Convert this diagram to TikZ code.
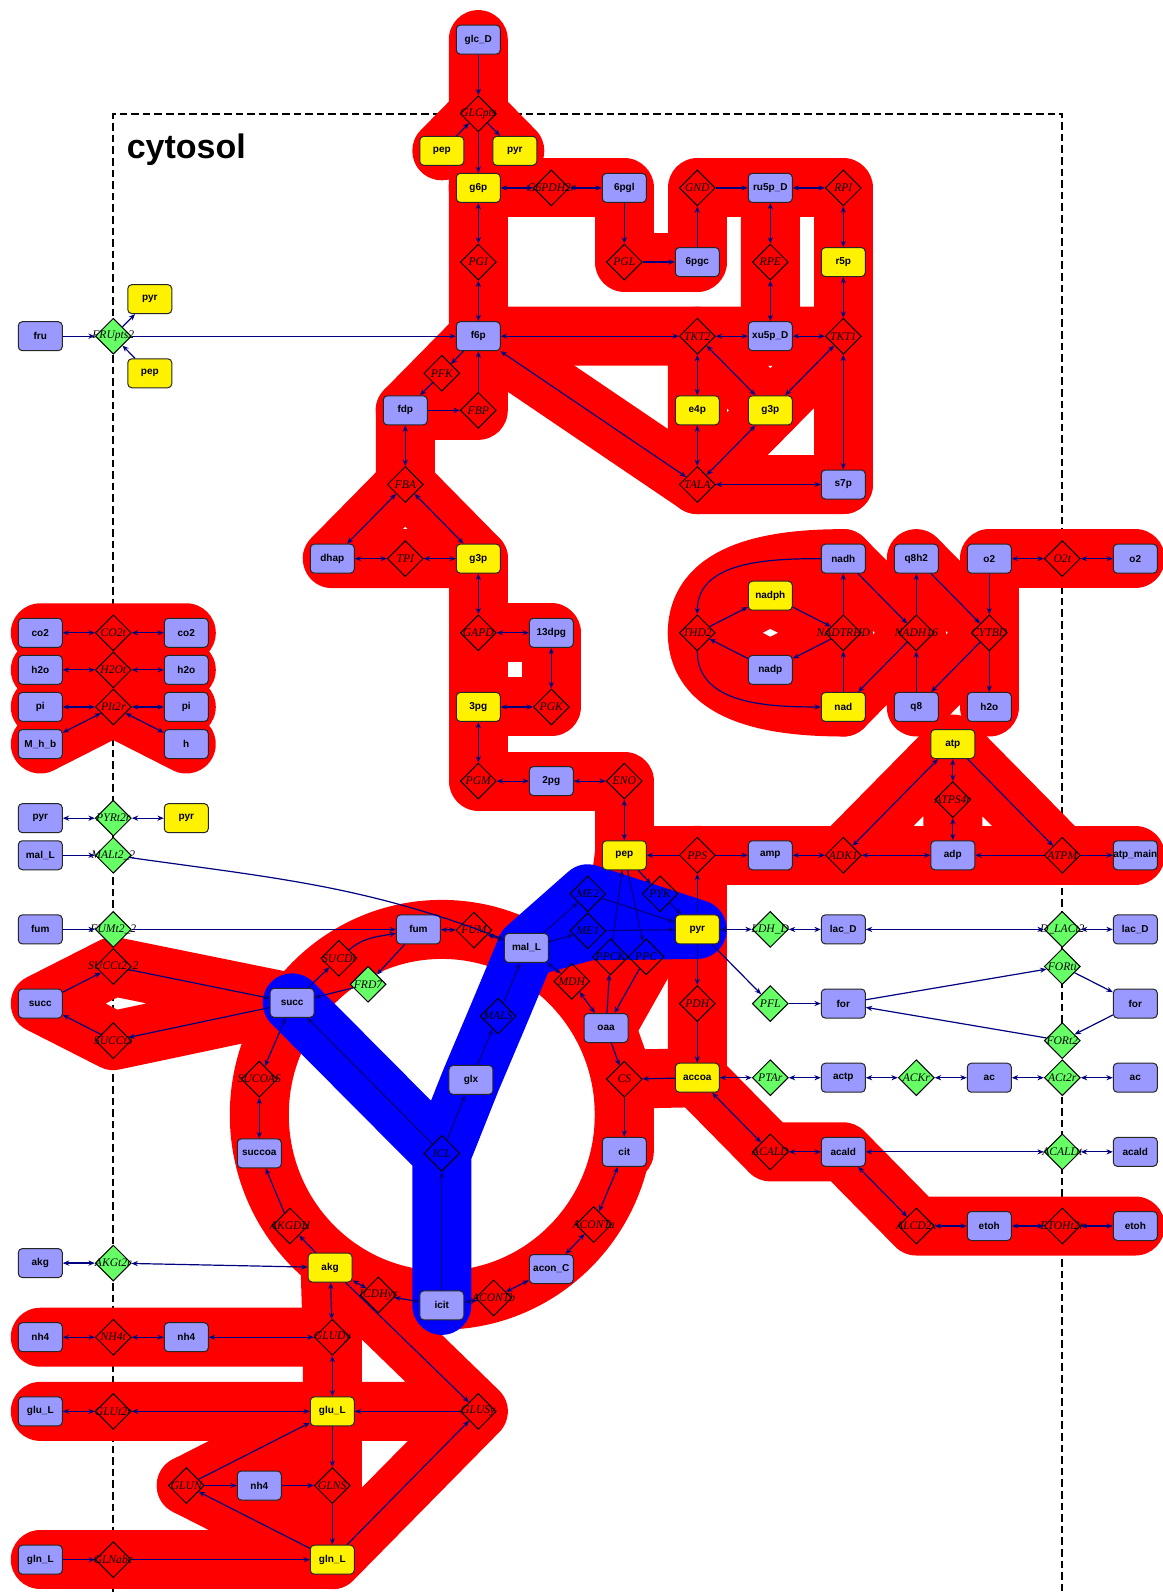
\documentclass[tikz,border=0pt]{standalone}
\usepackage{fontspec}
\setmainfont{Liberation Serif}
\setsansfont{Liberation Sans}
\usetikzlibrary{arrows.meta,shapes.geometric}
\pgfdeclarelayer{bg}
\pgfsetlayers{bg,main}
\definecolor{metblue}{RGB}{153,153,255}
\definecolor{rxngreen}{RGB}{102,255,102}
\definecolor{linkc}{RGB}{0,0,128}
\newcommand{\rxlab}[1]{\makebox[0pt]{#1}}

\begin{document}
\begin{tikzpicture}[x=36.5pt, y=-37.075pt,
  met/.style={draw=black!85, rounded corners=2pt, line width=0.5pt, minimum width=22pt, minimum height=14.5pt, inner sep=0pt, font=\sffamily\bfseries\fontsize{5}{6}\selectfont},
  metb/.style={met, fill=metblue},
  mety/.style={met, fill=yellow},
  rxn/.style={diamond, draw=black, line width=0.5pt, minimum width=18pt, minimum height=18pt, inner sep=0pt, font=\itshape\fontsize{5.8}{6}\selectfont},
  rxng/.style={rxn, fill=rxngreen},
  fw/.style={draw=linkc, line width=0.6pt, -{Stealth[length=3.2pt,width=2.6pt]}},
  bi/.style={draw=linkc, line width=0.6pt, {Stealth[length=3.2pt,width=2.6pt]}-{Stealth[length=3.2pt,width=2.6pt]}},
  flux/.style={draw=red, line width=29.5pt, line cap=round, line join=round},
  fluxb/.style={flux, draw=blue},
  cbox/.style={dash pattern=on 3.8pt off 2pt, line width=1pt}]
\useasboundingbox (-0.552,-0.534) rectangle (15.366,20.936);
\node[font=\sffamily\bfseries\fontsize{17}{20}\selectfont] (cyto) at (2.0,1.48) {cytosol};
\node[metb] (glcD) at (6,0) {glc\_D};
\node[mety] (pepA) at (5.5,1.5) {pep};
\node[mety] (pyrA) at (6.5,1.5) {pyr};
\node[mety] (g6p) at (6,2) {g6p};
\node[metb] (pgl6) at (8,2) {6pgl};
\node[metb] (ru5p) at (10,2) {ru5p\_D};
\node[metb] (pgc6) at (9,3) {6pgc};
\node[mety] (r5p) at (11,3) {r5p};
\node[metb] (fru) at (0,4) {fru};
\node[mety] (pyrF) at (1.5,3.5) {pyr};
\node[mety] (pepF) at (1.5,4.5) {pep};
\node[metb] (f6p) at (6,4) {f6p};
\node[metb] (xu5p) at (10,4) {xu5p\_D};
\node[metb] (fdp) at (5,5) {fdp};
\node[mety] (e4p) at (9,5) {e4p};
\node[mety] (g3pB) at (10,5) {g3p};
\node[metb] (s7p) at (11,6) {s7p};
\node[metb] (dhap) at (4,7) {dhap};
\node[mety] (g3p) at (6,7) {g3p};
\node[metb] (nadh) at (11,7) {nadh};
\node[metb] (q8h2) at (12,7) {q8h2};
\node[metb] (o2) at (13,7) {o2};
\node[metb] (o2e) at (15,7) {o2};
\node[mety] (nadph) at (10,7.5) {nadph};
\node[metb] (co2e) at (0,8) {co2};
\node[metb] (co2) at (2,8) {co2};
\node[metb] (dpg13) at (7,8) {13dpg};
\node[metb] (h2oe) at (0,8.5) {h2o};
\node[metb] (h2oi) at (2,8.5) {h2o};
\node[metb] (nadp) at (10,8.5) {nadp};
\node[metb] (pie) at (0,9) {pi};
\node[metb] (pii) at (2,9) {pi};
\node[mety] (pg3) at (6,9) {3pg};
\node[mety] (nad) at (11,9) {nad};
\node[metb] (q8) at (12,9) {q8};
\node[metb] (h2o) at (13,9) {h2o};
\node[metb] (Mhb) at (0,9.5) {M\_h\_b};
\node[metb] (hi) at (2,9.5) {h};
\node[mety] (atp) at (12.5,9.5) {atp};
\node[metb] (pg2) at (7,10) {2pg};
\node[metb] (pyre) at (0,10.5) {pyr};
\node[mety] (pyri) at (2,10.5) {pyr};
\node[metb] (malLe) at (0,11) {mal\_L};
\node[mety] (pep) at (8,11) {pep};
\node[metb] (amp) at (10,11) {amp};
\node[metb] (adp) at (12.5,11) {adp};
\node[metb] (atpm) at (15,11) {atp\_main};
\node[metb] (fume) at (0,12) {fum};
\node[metb] (fum) at (5.18,12) {fum};
\node[metb] (malL) at (6.66,12.25) {mal\_L};
\node[mety] (pyr) at (9,12) {pyr};
\node[metb] (lacD) at (11,12) {lac\_D};
\node[metb] (lacDe) at (15,12) {lac\_D};
\node[metb] (succe) at (0,13) {succ};
\node[metb] (succ) at (3.45,12.99) {succ};
\node[metb] (forA) at (11,13) {for};
\node[metb] (forB) at (15,13) {for};
\node[metb] (oaa) at (7.75,13.33) {oaa};
\node[mety] (accoa) at (9,14) {accoa};
\node[metb] (actp) at (11,14) {actp};
\node[metb] (ac) at (13,14) {ac};
\node[metb] (ace) at (15,14) {ac};
\node[metb] (glx) at (5.9,14.03) {glx};
\node[metb] (succoa) at (3,15.02) {succoa};
\node[metb] (cit) at (8,15) {cit};
\node[metb] (acald) at (11,15) {acald};
\node[metb] (acalde) at (15,15) {acald};
\node[metb] (etoh) at (13,16) {etoh};
\node[metb] (etohe) at (15,16) {etoh};
\node[metb] (akge) at (0,16.5) {akg};
\node[mety] (akg) at (3.97,16.56) {akg};
\node[metb] (aconC) at (7,16.58) {acon\_C};
\node[metb] (icit) at (5.5,17.07) {icit};
\node[metb] (nh4e) at (0,17.5) {nh4};
\node[metb] (nh4) at (2,17.5) {nh4};
\node[metb] (glue) at (0,18.5) {glu\_L};
\node[mety] (glu) at (4,18.5) {glu\_L};
\node[metb] (nh4b) at (3,19.5) {nh4};
\node[metb] (glne) at (0,20.5) {gln\_L};
\node[mety] (gln) at (4,20.5) {gln\_L};
\node[rxn] (GLCpts) at (6,1) {\rxlab{GLCpts}};
\node[rxn] (G6PDH2r) at (7,2) {\rxlab{G6PDH2r}};
\node[rxn] (GND) at (9,2) {\rxlab{GND}};
\node[rxn] (RPI) at (11,2) {\rxlab{RPI}};
\node[rxn] (PGI) at (6,3) {\rxlab{PGI}};
\node[rxn] (PGL) at (8,3) {\rxlab{PGL}};
\node[rxn] (RPE) at (10,3) {\rxlab{RPE}};
\node[rxng] (FRUpts2) at (1,4) {\rxlab{FRUpts2}};
\node[rxn] (TKT2) at (9,4) {\rxlab{TKT2}};
\node[rxn] (TKT1) at (11,4) {\rxlab{TKT1}};
\node[rxn] (PFK) at (5.5,4.5) {\rxlab{PFK}};
\node[rxn] (FBP) at (6,5) {\rxlab{FBP}};
\node[rxn] (FBA) at (5,6) {\rxlab{FBA}};
\node[rxn] (TALA) at (9,6) {\rxlab{TALA}};
\node[rxn] (TPI) at (5,7) {\rxlab{TPI}};
\node[rxn] (O2t) at (14,7) {\rxlab{O2t}};
\node[rxn] (CO2t) at (1,8) {\rxlab{CO2t}};
\node[rxn] (GAPD) at (6,8) {\rxlab{GAPD}};
\node[rxn] (THD2) at (9,8) {\rxlab{THD2}};
\node[rxn] (NADTRHD) at (11,8) {\rxlab{NADTRHD}};
\node[rxn] (NADH16) at (12,8) {\rxlab{NADH16}};
\node[rxn] (CYTBD) at (13,8) {\rxlab{CYTBD}};
\node[rxn] (H2Ot) at (1,8.5) {\rxlab{H2Ot}};
\node[rxn] (PIt2r) at (1,9) {\rxlab{PIt2r}};
\node[rxn] (PGK) at (7,9) {\rxlab{PGK}};
\node[rxn] (PGM) at (6,10) {\rxlab{PGM}};
\node[rxn] (ENO) at (8,10) {\rxlab{ENO}};
\node[rxn] (ATPS4r) at (12.5,10.25) {\rxlab{ATPS4r}};
\node[rxng] (PYRt2r) at (1,10.5) {\rxlab{PYRt2r}};
\node[rxng] (MALt2) at (1,11) {\rxlab{MALt2\_2}};
\node[rxn] (PPS) at (9,11) {\rxlab{PPS}};
\node[rxn] (ADK1) at (11,11) {\rxlab{ADK1}};
\node[rxn] (ATPM) at (14,11) {\rxlab{ATPM}};
\node[rxn] (ME2) at (7.5,11.52) {\rxlab{ME2}};
\node[rxn] (PYK) at (8.49,11.52) {\rxlab{PYK}};
\node[rxng] (FUMt2) at (1,12) {\rxlab{FUMt2\_2}};
\node[rxn] (FUM) at (5.94,12.01) {\rxlab{FUM}};
\node[rxn] (ME1) at (7.5,12.02) {\rxlab{ME1}};
\node[rxng] (LDH) at (10,12) {\rxlab{LDH\_D}};
\node[rxng] (DLACt2) at (14,12) {\rxlab{D\_LACt2}};
\node[rxn] (SUCCt2) at (1,12.5) {\rxlab{SUCCt2\_2}};
\node[rxn] (SUCDi) at (4.09,12.39) {\rxlab{SUCDi}};
\node[rxn] (PPCK) at (7.81,12.37) {\rxlab{PPCK}};
\node[rxn] (PPC) at (8.3,12.37) {\rxlab{PPC}};
\node[rxng] (FORti) at (14,12.5) {\rxlab{FORti}};
\node[rxn] (MDH) at (7.28,12.7) {\rxlab{MDH}};
\node[rxng] (FRD7) at (4.49,12.74) {\rxlab{FRD7}};
\node[rxn] (PDH) at (9,13) {\rxlab{PDH}};
\node[rxng] (PFL) at (10,13) {\rxlab{PFL}};
\node[rxn] (MALS) at (6.27,13.17) {\rxlab{MALS}};
\node[rxn] (SUCCt3) at (1,13.5) {\rxlab{SUCCt3}};
\node[rxng] (FORt2) at (14,13.5) {\rxlab{FORt2}};
\node[rxn] (SUCOAS) at (3,14.02) {\rxlab{SUCOAS}};
\node[rxn] (CS) at (8,14.02) {\rxlab{CS}};
\node[rxng] (PTAr) at (10,14) {\rxlab{PTAr}};
\node[rxng] (ACKr) at (12,14) {\rxlab{ACKr}};
\node[rxng] (ACt2r) at (14,14) {\rxlab{ACt2r}};
\node[rxn] (ICL) at (5.5,15.02) {\rxlab{ICL}};
\node[rxn] (ACALD) at (10,15) {\rxlab{ACALD}};
\node[rxng] (ACALDt) at (14,15) {\rxlab{ACALDt}};
\node[rxn] (ACONTa) at (7.58,15.98) {\rxlab{ACONTa}};
\node[rxn] (AKGDH) at (3.42,16) {\rxlab{AKGDH}};
\node[rxn] (ALCD2x) at (12,16) {\rxlab{ALCD2x}};
\node[rxn] (ETOHt2r) at (14,16) {\rxlab{ETOHt2r}};
\node[rxng] (AKGt2r) at (1,16.5) {\rxlab{AKGt2r}};
\node[rxn] (ACONTb) at (6.21,16.97) {\rxlab{ACONTb}};
\node[rxn] (ICDHyr) at (4.63,16.93) {\rxlab{ICDHyr}};
\node[rxn] (NH4t) at (1,17.5) {\rxlab{NH4t}};
\node[rxn] (GLUDy) at (4,17.5) {\rxlab{GLUDy}};
\node[rxn] (GLUt2r) at (1,18.5) {\rxlab{GLUt2r}};
\node[rxn] (GLUSy) at (6,18.5) {\rxlab{GLUSy}};
\node[rxn] (GLUN) at (2,19.5) {\rxlab{GLUN}};
\node[rxn] (GLNS) at (4,19.5) {\rxlab{GLNS}};
\node[rxn] (GLNabc) at (1,20.5) {\rxlab{GLNabc}};
\path (glcD) edge[fw] (GLCpts) (pepA) edge[fw] (GLCpts) (GLCpts) edge[fw] (g6p) edge[fw] (pyrA);
\path (G6PDH2r) edge[bi] (g6p) edge[bi] (pgl6);
\path (pgl6) edge[fw] (PGL) (PGL) edge[fw] (pgc6);
\path (pgc6) edge[fw] (GND) (GND) edge[fw] (ru5p);
\path (RPI) edge[bi] (ru5p) edge[bi] (r5p);
\path (RPE) edge[bi] (ru5p) edge[bi] (xu5p);
\path (PGI) edge[bi] (g6p) edge[bi] (f6p);
\path (TKT2) edge[bi] (f6p) edge[bi] (xu5p) edge[bi] (e4p) edge[bi] (g3pB);
\path (TKT1) edge[bi] (xu5p) edge[bi] (r5p) edge[bi] (g3pB) edge[bi] (s7p);
\path (TALA) edge[bi] (e4p) edge[bi] (g3pB) edge[bi] (s7p) edge[bi] (f6p);
\path (f6p) edge[fw] (PFK) (PFK) edge[fw] (fdp);
\path (fdp) edge[fw] (FBP) (FBP) edge[fw] (f6p);
\path (FBA) edge[bi] (fdp) edge[bi] (dhap) edge[bi] (g3p);
\path (TPI) edge[bi] (dhap) edge[bi] (g3p);
\path (GAPD) edge[bi] (g3p) edge[bi] (dpg13);
\path (PGK) edge[bi] (dpg13) edge[bi] (pg3);
\path (PGM) edge[bi] (pg3) edge[bi] (pg2);
\path (ENO) edge[bi] (pg2) edge[bi] (pep);
\path (fru) edge[fw] (FRUpts2) (pepF) edge[fw] (FRUpts2) (FRUpts2) edge[fw] (pyrF) edge[fw] (f6p);
\path (CO2t) edge[bi] (co2e) edge[bi] (co2);
\path (H2Ot) edge[bi] (h2oe) edge[bi] (h2oi);
\path (PIt2r) edge[bi] (pie) edge[bi] (pii) edge[bi] (Mhb) edge[bi] (hi);
\path (PYRt2r) edge[bi] (pyre) edge[bi] (pyri);
\path (malLe) edge[fw] (MALt2) (MALt2) edge[fw, out=-8, in=159] (malL);
\path (fume) edge[fw] (FUMt2) (FUMt2) edge[fw] (fum);
\path (succe) edge[fw] (SUCCt2) (SUCCt2) edge[fw] (succ);
\path (succ) edge[fw] (SUCCt3) (SUCCt3) edge[fw] (succe);
\path (succ) edge[fw] (SUCDi) (SUCDi) edge[fw, out=40, in=190] (fum);
\path (fum) edge[fw] (FRD7) (FRD7) edge[fw] (succ);
\path (FUM) edge[bi] (fum) edge[bi] (malL);
\path (MDH) edge[bi] (malL) edge[bi] (oaa);
\path (malL) edge[fw] (ME1) edge[fw] (ME2) (ME1) edge[fw] (pyr) (ME2) edge[fw] (pyr);
\path (pep) edge[fw] (PYK) (PYK) edge[fw] (pyr);
\path (oaa) edge[fw] (PPCK) (PPCK) edge[fw] (pep);
\path (pep) edge[fw] (PPC) (PPC) edge[fw] (oaa);
\path (pyr) edge[fw] (PPS) (PPS) edge[fw] (pep) edge[fw] (amp);
\path (pyr) edge[fw] (PDH) (PDH) edge[fw] (accoa);
\path (accoa) edge[fw] (CS) (oaa) edge[fw] (CS) (CS) edge[fw] (cit);
\path (ACONTa) edge[bi] (cit) edge[bi] (aconC);
\path (ACONTb) edge[bi] (aconC) edge[bi] (icit);
\path (ICDHyr) edge[bi] (icit) edge[bi] (akg);
\path (akg) edge[fw] (AKGDH) (AKGDH) edge[fw] (succoa);
\path (SUCOAS) edge[bi] (succoa) edge[bi] (succ);
\path (icit) edge[fw] (ICL) (ICL) edge[fw] (succ) edge[fw] (glx);
\path (glx) edge[fw] (MALS) (MALS) edge[fw] (malL);
\path (AKGt2r) edge[bi] (akge) edge[bi] (akg);
\path (NH4t) edge[bi] (nh4e) edge[bi] (nh4);
\path (GLUDy) edge[bi] (nh4) edge[bi] (akg) edge[bi] (glu);
\path (GLUt2r) edge[bi] (glue) edge[bi] (glu);
\path (akg) edge[fw] (GLUSy) (gln) edge[fw] (GLUSy) (GLUSy) edge[fw] (glu);
\path (glu) edge[fw] (GLNS) (nh4b) edge[fw] (GLNS) (GLNS) edge[fw] (gln);
\path (gln) edge[fw] (GLUN) (GLUN) edge[fw] (glu) edge[fw] (nh4b);
\path (glne) edge[fw] (GLNabc) (GLNabc) edge[fw] (gln);
\path (LDH) edge[bi] (pyr) edge[bi] (lacD);
\path (DLACt2) edge[bi] (lacD) edge[bi] (lacDe);
\path (pyr) edge[fw] (PFL) (PFL) edge[fw] (forA);
\path (forA) edge[fw] (FORti) (FORti) edge[fw] (forB);
\path (forB) edge[fw] (FORt2) (FORt2) edge[fw] (forA);
\path (PTAr) edge[bi] (accoa) edge[bi] (actp);
\path (ACKr) edge[bi] (actp) edge[bi] (ac);
\path (ACt2r) edge[bi] (ac) edge[bi] (ace);
\path (ACALD) edge[bi] (accoa) edge[bi] (acald);
\path (ACALDt) edge[bi] (acald) edge[bi] (acalde);
\path (ALCD2x) edge[bi] (acald) edge[bi] (etoh);
\path (ETOHt2r) edge[bi] (etoh) edge[bi] (etohe);
\path (nadh) edge[fw, out=180, in=90] (THD2) (nadp) edge[fw] (THD2) (THD2) edge[fw] (nadph) edge[fw, out=-90, in=180] (nad);
\path (nad) edge[fw] (NADTRHD) (nadph) edge[fw] (NADTRHD) (NADTRHD) edge[fw] (nadh) edge[fw] (nadp);
\path (nadh) edge[fw] (NADH16) (q8) edge[fw] (NADH16) (NADH16) edge[fw] (q8h2) edge[fw] (nad);
\path (q8h2) edge[fw] (CYTBD) (o2) edge[fw] (CYTBD) (CYTBD) edge[fw] (q8) edge[fw] (h2o);
\path (O2t) edge[bi] (o2) edge[bi] (o2e);
\path (ATPS4r) edge[bi] (atp) edge[bi] (adp);
\path (ADK1) edge[bi] (amp) edge[bi] (adp) edge[bi] (atp);
\path (atp) edge[fw] (ATPM) (ATPM) edge[fw] (adp) edge[fw] (atpm);
\begin{pgfonlayer}{bg}
\draw[cbox] (1,20.94) |- (14,1) -- (14,20.94);
\draw[flux] (glcD.center) -- (GLCpts.center) -- (g6p.center) (pepA.center) -- (GLCpts.center) -- (pyrA.center);
\draw[flux] (g6p.center) -- (G6PDH2r.center) -- (pgl6.center) -- (PGL.center) -- (pgc6.center) -- (GND.center) -- (ru5p.center) -- (RPI.center) -- (r5p.center) -- (TKT1.center) -- (s7p.center);
\draw[flux] (ru5p.center) -- (RPE.center) -- (xu5p.center) -- (TKT1.center) -- (g3pB.center) -- (TALA.center) -- (s7p.center);
\draw[flux] (g6p.center) -- (PGI.center) -- (f6p.center) -- (TKT2.center) -- (xu5p.center) (TKT2.center) -- (g3pB.center);
\draw[flux] (TKT2.center) -- (e4p.center) -- (TALA.center) -- (f6p.center);
\draw[flux] (f6p.center) -- (PFK.center) -- (fdp.center) -- (FBP.center) -- (f6p.center);
\draw[flux] (fdp.center) -- (FBA.center) -- (dhap.center) -- (TPI.center) -- (g3p.center) -- (FBA.center);
\draw[flux] (g3p.center) -- (GAPD.center) -- (dpg13.center) -- (PGK.center) -- (pg3.center) -- (PGM.center) -- (pg2.center) -- (ENO.center) -- (pep.center) (GAPD.center) -- (pg3.center);
\draw[flux] (pep.center) -- (PPS.center) -- (amp.center) -- (ADK1.center) -- (adp.center) -- (ATPM.center) -- (atpm.center) (pyr.center) -- (PPS.center);
\draw[flux] (ADK1.center) -- (atp.center) -- (ATPM.center) (atp.center) -- (ATPS4r.center) -- (adp.center);
\draw[flux] (pyr.center) -- (PDH.center) -- (accoa.center) -- (CS.center) -- (cit.center) (oaa.center) -- (CS.center);
\draw[flux] (accoa.center) -- (ACALD.center) -- (acald.center) -- (ALCD2x.center) -- (etoh.center) -- (ETOHt2r.center) -- (etohe.center);
\draw[flux] (5.5,14.5) circle [radius=2.5];
\draw[flux] (pep.center) -- (PPCK.center) -- (oaa.center) -- (PPC.center) -- (pep.center) -- (PYK.center) -- (pyr.center);
\draw[flux] (succe.center) -- (SUCCt2.center) -- (succ.center) -- (SUCCt3.center) -- cycle;
\draw[flux] (akg.center) -- (GLUDy.center) -- (glu.center) (nh4e.center) -- (NH4t.center) -- (nh4.center) -- (GLUDy.center);
\draw[flux] (glue.center) -- (GLUt2r.center) -- (glu.center) -- (GLUSy.center) -- (akg.center) (GLUSy.center) -- (gln.center) -- (GLNS.center) -- (glu.center) -- (GLUN.center) -- (gln.center);
\draw[flux] (GLUN.center) -- (nh4b.center) -- (GLNS.center) (glne.center) -- (GLNabc.center) -- (gln.center);
\draw[flux] (co2e.center) -- (CO2t.center) -- (co2.center) (h2oe.center) -- (H2Ot.center) -- (h2oi.center) (pie.center) -- (PIt2r.center) -- (pii.center) (Mhb.center) -- (PIt2r.center) -- (hi.center);
\draw[flux] (nadh.center) to[out=180, in=90] (THD2.center) to[out=-90, in=180] (nad.center);
\draw[flux] (nadph.center) -- (THD2.center) -- (nadp.center) -- (NADTRHD.center) -- (nadph.center) (nadh.center) -- (NADTRHD.center) -- (nad.center);
\draw[flux] (nadh.center) -- (NADH16.center) -- (nad.center) (q8h2.center) -- (NADH16.center) -- (q8.center) -- (CYTBD.center) -- (q8h2.center);
\draw[flux] (o2e.center) -- (O2t.center) -- (o2.center) -- (CYTBD.center) -- (h2o.center);
\draw[fluxb] (succ.center) -- (ICL.center) -- (icit.center) (ICL.center) -- (glx.center) -- (MALS.center) -- (malL.center) -- (ME2.center) -- (pyr.center) (malL.center) -- (ME1.center) -- (pyr.center);
\end{pgfonlayer}
\end{tikzpicture}
\end{document}
